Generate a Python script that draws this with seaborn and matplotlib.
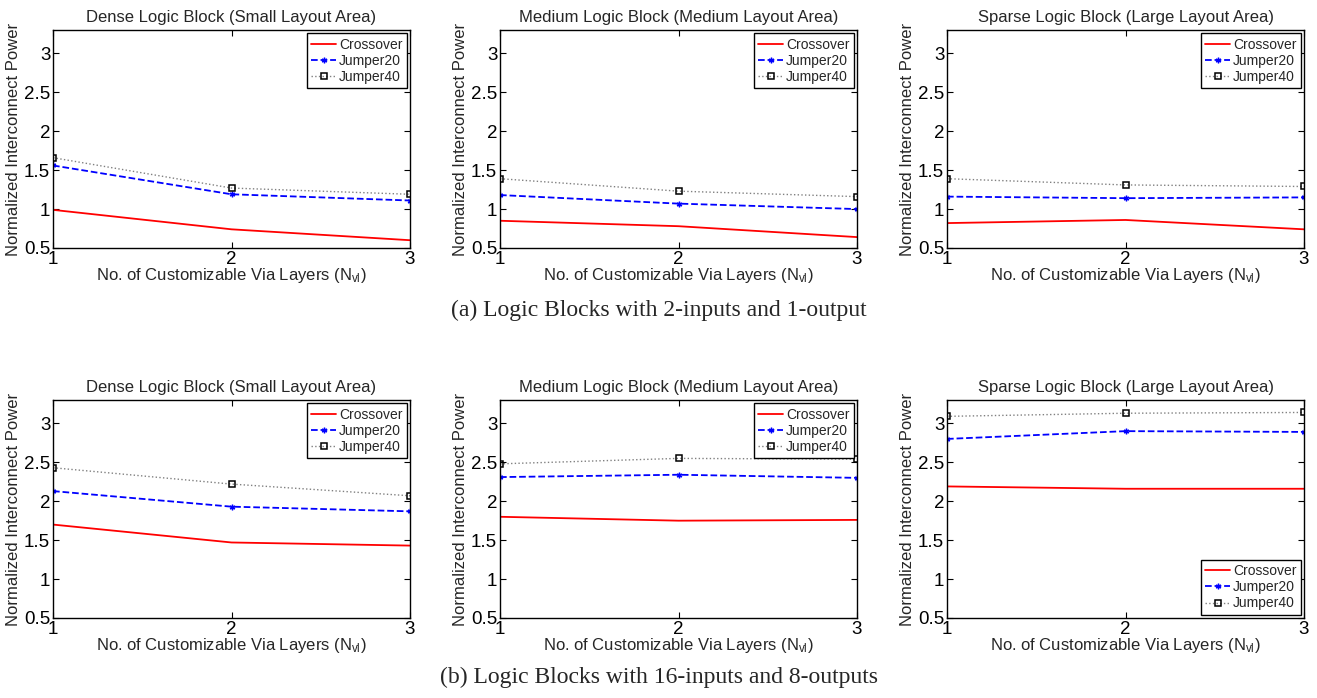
import pandas as pd
import matplotlib
matplotlib.use("Agg")
import matplotlib.pyplot as plt
import seaborn as sns
from matplotlib.ticker import FormatStrFormatter, FuncFormatter

# ===============================
# DATOS
# ===============================
capas = [1, 2, 3]
series = ["Crossover", "Jumper20", "Jumper40"]

titulos = ["Dense Logic Block (Small Layout Area)",
           "Medium Logic Block (Medium Layout Area)",
           "Sparse Logic Block (Large Layout Area)"]

# (a) 2 entradas, 1 salida
a_dense_cross = [0.99, 0.74, 0.60]
a_dense_j20 = [1.56, 1.19, 1.11]
a_dense_j40 = [1.66, 1.27, 1.19]

a_medium_cross = [0.85, 0.78, 0.64]
a_medium_j20 = [1.18, 1.07, 1.00]
a_medium_j40 = [1.39, 1.23, 1.16]

a_sparse_cross = [0.82, 0.86, 0.74]
a_sparse_j20 = [1.16, 1.14, 1.15]
a_sparse_j40 = [1.39, 1.31, 1.29]

# (b) 16 entradas, 8 salidas
b_dense_cross = [1.70, 1.47, 1.43]
b_dense_j20 = [2.13, 1.93, 1.87]
b_dense_j40 = [2.43, 2.22, 2.07]

b_medium_cross = [1.80, 1.75, 1.76]
b_medium_j20 = [2.31, 2.34, 2.30]
b_medium_j40 = [2.48, 2.55, 2.54]

b_sparse_cross = [2.19, 2.16, 2.16]
b_sparse_j20 = [2.80, 2.90, 2.89]
b_sparse_j40 = [3.09, 3.13, 3.14]

paneles = [
    [(a_dense_cross, a_dense_j20, a_dense_j40),
     (a_medium_cross, a_medium_j20, a_medium_j40),
     (a_sparse_cross, a_sparse_j20, a_sparse_j40)],
    [(b_dense_cross, b_dense_j20, b_dense_j40),
     (b_medium_cross, b_medium_j20, b_medium_j40),
     (b_sparse_cross, b_sparse_j20, b_sparse_j40)],
]

leyenda_pos = [["upper right"] * 3, ["upper right", "upper right", "lower right"]]

captions = ["(a) Logic Blocks with 2-inputs and 1-output",
            "(b) Logic Blocks with 16-inputs and 8-outputs"]

# ===============================
# ESTILO
# ===============================
sns.set_theme(style="ticks")
plt.rcParams["font.family"] = ["Liberation Sans", "DejaVu Sans"]
plt.rcParams["mathtext.fontset"] = "custom"
plt.rcParams["mathtext.rm"] = "Liberation Sans"
plt.rcParams["mathtext.it"] = "Liberation Sans"
plt.rcParams["xtick.direction"] = "in"
plt.rcParams["ytick.direction"] = "in"
plt.rcParams["xtick.top"] = True
plt.rcParams["ytick.right"] = True

estilos = {
    "Crossover": dict(color="red", linestyle="-", linewidth=1.3),
    "Jumper20": dict(color="blue", linestyle="--", linewidth=1.3, marker=(6, 2, 0),
                     markersize=4, markeredgecolor="blue", markeredgewidth=1.0),
    "Jumper40": dict(color="0.5", linestyle=":", linewidth=1.0, marker="s",
                     markersize=5, markerfacecolor="none", markeredgecolor="black",
                     markeredgewidth=1.1),
}

W, H = 1317, 698
fig = plt.figure(figsize=(W / 100, H / 100), dpi=100)

col_x = [53, 500, 947]
fila_y = [30, 400]
ancho, alto = 357, 218

for i in range(2):
    for j in range(3):
        ax = fig.add_axes([col_x[j] / W, 1 - (fila_y[i] + alto) / H, ancho / W, alto / H])
        for nombre, valores in zip(series, paneles[i][j]):
            df = pd.DataFrame({"capas": capas, "potencia": valores})
            sns.lineplot(data=df, x="capas", y="potencia", ax=ax, label=nombre,
                         legend=False, **estilos[nombre])
        ax.set_xlim(1, 3)
        ax.set_ylim(0.5, 3.3)
        ax.set_xticks([1, 2, 3])
        ax.set_yticks([0.5, 1, 1.5, 2, 2.5, 3])
        ax.yaxis.set_major_formatter(FuncFormatter(lambda v, p: "%g" % v))
        ax.xaxis.set_major_formatter(FormatStrFormatter("%d"))
        ax.tick_params(length=4, width=0.8, labelsize=13.5, pad=2, colors="black")
        for s in ax.spines.values():
            s.set_linewidth(1.0)
            s.set_color("black")
        ax.set_title(titulos[j], fontsize=12, pad=6)
        ax.set_xlabel(r"No. of Customizable Via Layers (N$_\mathregular{vl}$)",
                      fontsize=12, labelpad=-1)
        ax.set_ylabel("Normalized Interconnect Power", fontsize=12, labelpad=2)
        leg = ax.legend(loc=leyenda_pos[i][j], fontsize=10, frameon=True, fancybox=False,
                        edgecolor="black", framealpha=1, handlelength=1.8,
                        labelspacing=0.15, borderpad=0.3, borderaxespad=0.25,
                        handletextpad=0.2)
        leg.get_frame().set_linewidth(1.0)

fig.text(0.5, 1 - 310 / H, captions[0], ha="center", va="center", fontsize=17,
         family=["Liberation Serif", "DejaVu Serif"])
fig.text(0.5, 1 - 677 / H, captions[1], ha="center", va="center", fontsize=17,
         family=["Liberation Serif", "DejaVu Serif"])

fig.savefig("out.png", dpi=100)
